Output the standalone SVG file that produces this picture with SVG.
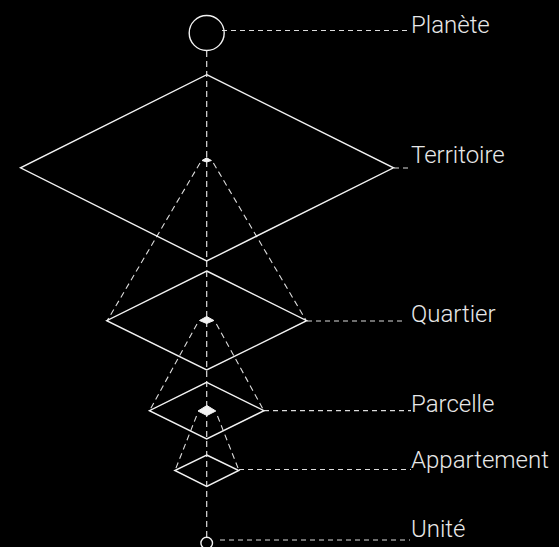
<svg xmlns="http://www.w3.org/2000/svg" width="559" height="547" viewBox="0 0 559 547">
<style>
.bg{fill:#000}
.shape{fill:none;stroke:#f2f2f2;stroke-width:1.4;stroke-linejoin:miter}
.cap{fill:#f2f2f2;stroke:#f2f2f2;stroke-width:1}
.dash{fill:none;stroke:#dcdcdc;stroke-width:1.2;stroke-dasharray:5 4}
.vdash{fill:none;stroke:#dcdcdc;stroke-width:1.2;stroke-dasharray:6 4}
.cone{fill:none;stroke:#dcdcdc;stroke-width:1.1;stroke-dasharray:6 4}
.lbl{font-family:Roboto,"Liberation Sans",Arial,sans-serif;font-weight:300;font-size:24px;fill:#e8e8e8}
</style>
<rect class="bg" x="0" y="0" width="559" height="547"/>
<g id="connectors">
<line class="vdash" x1="206.7" y1="51" x2="206.7" y2="537"/>
<line class="dash" x1="222" y1="30.5" x2="410" y2="30.5"/>
<line class="dash" x1="394" y1="168" x2="411" y2="168"/>
<line class="dash" x1="307" y1="321" x2="405" y2="321"/>
<line class="dash" x1="264" y1="410.7" x2="411" y2="410.7"/>
<line class="dash" x1="239" y1="469.5" x2="411" y2="469.5"/>
<line class="dash" x1="220" y1="540" x2="410" y2="540"/>
<line class="cone" x1="200" y1="163" x2="107" y2="321"/>
<line class="cone" x1="213.4" y1="163" x2="306.4" y2="321"/>
<line class="cone" x1="197" y1="324" x2="149.5" y2="410.7"/>
<line class="cone" x1="216.4" y1="324" x2="263.9" y2="410.7"/>
<line class="cone" x1="196.5" y1="416" x2="175.2" y2="470"/>
<line class="cone" x1="217.5" y1="416" x2="238.8" y2="470"/>
</g>
<g id="planete">
<circle class="shape" cx="206.7" cy="33" r="17.5"/>
<text class="lbl" x="411" y="33">Planète</text>
</g>
<g id="territoire">
<polygon class="shape" points="206.7,74.7 393.5,167.8 206.7,261 20.5,167.8"/>
<path class="cap" d="M202,160.5 L206.7,157.8 L211.4,160.5 L206.7,162 Z"/>
<text class="lbl" x="411" y="163">Territoire</text>
</g>
<g id="quartier">
<polygon class="shape" points="206.7,271 306.7,320.7 206.7,370 106.7,320.7"/>
<path class="cap" d="M199.5,320.5 L206.7,316.5 L213.9,320.5 L206.7,323.5 Z"/>
<text class="lbl" x="411" y="322">Quartier</text>
</g>
<g id="parcelle">
<polygon class="shape" points="206.7,382.3 264,410.7 206.7,439 149.4,410.7"/>
<path class="cap" d="M198,411 L206.9,405.5 L215.8,411 L206.9,415.5 Z"/>
<text class="lbl" x="411" y="412">Parcelle</text>
</g>
<g id="appartement">
<polygon class="shape" points="206.7,455 238.8,470.5 206.7,486.5 174.8,470.5"/>
<text class="lbl" x="411" y="468">Appartement</text>
</g>
<g id="unite">
<circle class="shape" cx="206.7" cy="543" r="5.8"/>
<text class="lbl" x="411" y="537">Unité</text>
</g>
</svg>
